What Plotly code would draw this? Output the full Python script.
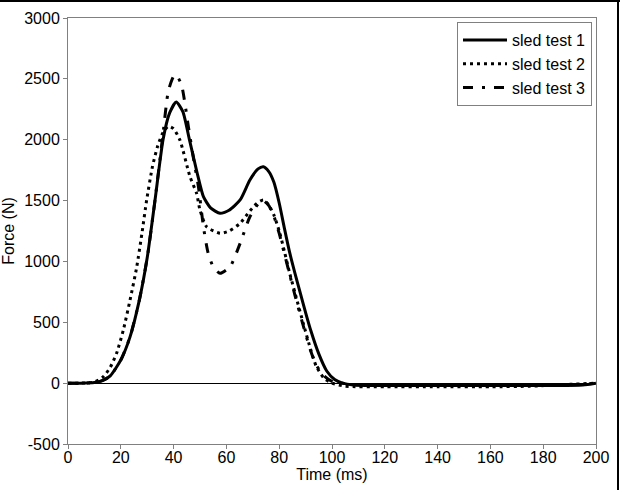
import plotly.graph_objects as go

t1 = [0, 5, 10, 13, 16, 20, 23.5, 27, 30, 33, 36, 38.5, 41, 43.5, 46, 47.5, 49, 51.3, 54, 57.6, 61, 65.2, 68.9, 72, 74, 76, 78, 80, 82, 84, 86, 88, 90, 92, 95, 98, 101, 104, 108, 120, 140, 160, 180, 195, 200]
f1 = [0, 0, 5, 20, 60, 190, 380, 680, 1030, 1510, 2000, 2220, 2310, 2230, 2000, 1860, 1720, 1532, 1440, 1395, 1420, 1505, 1669, 1760, 1778, 1740, 1650, 1480, 1270, 1070, 900, 740, 580, 430, 240, 100, 30, 0, -15, -20, -20, -20, -20, -15, 0]

t2 = [0, 5, 10, 13.4, 16, 18.4, 21, 23.5, 26, 28, 29.8, 32, 34, 36, 38, 40, 42.4, 46.2, 48.7, 50, 52.5, 57.6, 61, 65.2, 68, 71.5, 74, 76, 78, 80, 82, 84, 86, 89, 92, 94, 97, 100, 105, 120, 140, 160, 175, 190, 200]
f2 = [0, 0, 10, 53, 130, 245, 440, 683, 950, 1230, 1505, 1780, 1950, 2060, 2110, 2090, 1997, 1696, 1560, 1422, 1285, 1231, 1250, 1313, 1390, 1477, 1505, 1465, 1380, 1250, 1080, 900, 740, 500, 270, 140, 40, 0, -25, -30, -30, -30, -25, -10, 0]

t3 = [0, 5, 10, 13, 16, 20, 23.5, 27, 30, 33, 36, 38, 40, 41, 43, 45.6, 47.5, 49.4, 51.3, 53.1, 55, 57.6, 61.4, 65.2, 68.9, 72.7, 74, 76, 78, 80, 82, 84, 86, 89, 92, 94, 97, 100, 104, 108, 120, 140, 160, 180, 195, 200]
f3 = [0, 0, 5, 20, 60, 190, 380, 680, 1030, 1510, 2050, 2400, 2520, 2532, 2450, 2107, 1850, 1614, 1285, 1067, 957, 902, 957, 1149, 1367, 1490, 1500, 1460, 1370, 1230, 1060, 890, 720, 480, 260, 150, 60, 15, 0, -10, -15, -15, -15, -15, -10, 0]

names = ["sled test 1", "sled test 2", "sled test 3"]
dashes = ["solid", "3px,4px", "10px,9px,3px,9px"]

x_ticks = [0, 20, 40, 60, 80, 100, 120, 140, 160, 180, 200]
y_ticks = [-500, 0, 500, 1000, 1500, 2000, 2500, 3000]

FONT = "Liberation Sans, Arial, sans-serif"

fig = go.Figure()
for tt, ff, nm, ds in zip([t1, t2, t3], [f1, f2, f3], names, dashes):
    fig.add_trace(go.Scatter(
        x=tt, y=ff, name=nm, mode="lines",
        line=dict(color="black", width=3, dash=ds, shape="spline", smoothing=0.6),
    ))

L, R, T, B = 68, 28, 18, 46
W, H = 624, 490
pw, ph = W - L - R, H - T - B

def px(xpix):
    return (xpix - L) / pw

def py(ypix):
    return (H - B - ypix) / ph

fig.update_layout(
    width=W, height=H,
    margin=dict(l=L, r=R, t=T, b=B, autoexpand=False),
    paper_bgcolor="white", plot_bgcolor="white",
    font=dict(family=FONT, size=16, color="black"),
    showlegend=True,
    legend=dict(
        x=px(592), y=py(22), xanchor="right", yanchor="top",
        bordercolor="#808080", borderwidth=1, bgcolor="white",
        font=dict(family=FONT, size=16, color="black"),
        tracegroupgap=0, itemwidth=44,
    ),
    xaxis=dict(
        range=[0, 200], tickvals=x_ticks, ticktext=[str(v) for v in x_ticks],
        showgrid=False, zeroline=False,
        showline=True, linecolor="#808080", linewidth=1, mirror=True,
        ticks="outside", ticklen=4, tickcolor="#808080",
        ticklabelstandoff=-5,
        title=dict(text="Time (ms)", standoff=0, font=dict(family=FONT, size=16)),
        tickfont=dict(family=FONT, size=16),
    ),
    yaxis=dict(
        range=[-500, 3000], tickvals=y_ticks, ticktext=[str(v) for v in y_ticks],
        showgrid=False, zeroline=True, zerolinecolor="black", zerolinewidth=1,
        showline=True, linecolor="#808080", linewidth=1, mirror=True,
        ticks="outside", ticklen=4, tickcolor="#808080",
        title=dict(text="Force (N)", standoff=6, font=dict(family=FONT, size=16)),
        tickfont=dict(family=FONT, size=16),
    ),
    shapes=[
        dict(type="line", xref="paper", yref="paper",
             x0=px(0), x1=px(620), y0=py(1), y1=py(1),
             line=dict(color="black", width=2)),
        dict(type="line", xref="paper", yref="paper",
             x0=px(618), x1=px(618), y0=py(0), y1=py(490),
             line=dict(color="black", width=2)),
    ],
)

fig.write_html(
    "out.html",
    config={"displayModeBar": False},
    post_script="document.body.style.margin='0';document.body.style.overflow='hidden';",
)
